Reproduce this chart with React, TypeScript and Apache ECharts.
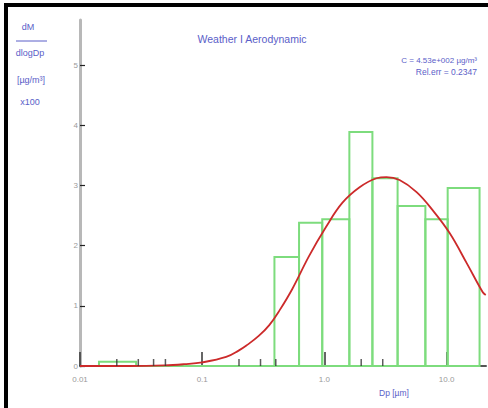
import React, { useEffect, useRef } from "react";
import * as echarts from "echarts";

// Histogram bins (Dp in µm, lower/upper edges) and heights (dM/dlogDp, x100 µg/m³)
const binLo = [0.0143, 0.0288, 0.39, 0.62, 0.96, 1.6, 2.47, 3.97, 6.7, 10.2];
const binHi = [0.0288, 0.39, 0.62, 0.96, 1.6, 2.47, 3.97, 6.7, 10.2, 18.6];
const binHeight = [0.07, 0, 1.81, 2.38, 2.44, 3.89, 3.12, 2.66, 2.44, 2.96];

// Fitted log-normal curve
const fitDp = [0.01, 0.025, 0.049, 0.071, 0.1, 0.157, 0.2, 0.23, 0.29, 0.354, 0.428, 0.546, 0.75, 1.03, 1.4, 1.94, 2.67, 3.22, 4.12, 5.68, 7.68, 10.58, 14.6, 19.7, 20.9];
const fitValue = [0, 0, 0.01, 0.03, 0.06, 0.15, 0.26, 0.34, 0.5, 0.68, 0.92, 1.28, 1.83, 2.31, 2.71, 2.97, 3.12, 3.14, 3.09, 2.89, 2.59, 2.21, 1.71, 1.23, 1.18];

// Extra small tick marks on the Dp axis
const minorTicks = [0.02, 0.03, 0.04, 0.05, 0.2, 0.3, 0.4, 2, 3];

const yTickValues = [0, 1, 2, 3, 4, 5];

const titleText = "Weather I Aerodynamic";
const infoLine1 = "C = 4.53e+002 µg/m³";
const infoLine2 = "Rel.err = 0.2347";
const yUnitLines = ["dM", "dlogDp", "[µg/m³]", "x100"];
const xName = "Dp [µm]";

const FONT = "Liberation Sans, Arial, sans-serif";
const BLUE = "#5a5ec8";
const GRAY = "#9a9a9a";

export default function App() {
  const ref = useRef<HTMLDivElement>(null);
  useEffect(() => {
    if (!ref.current) return;
    const chart = echarts.init(ref.current, undefined, { renderer: "svg" });
    const txt = (text: string, x: number, y: number, size: number, align: string) => ({
      type: "text",
      x,
      y,
      silent: true,
      style: {
        text,
        fill: BLUE,
        font: `${size}px ${FONT}`,
        align,
        verticalAlign: "middle",
        textAlign: align,
        textVerticalAlign: "middle",
      },
    });
    chart.setOption({
      animation: false,
      backgroundColor: "#ffffff",
      grid: { left: 80, right: 2, top: 20, bottom: 42 },
      xAxis: {
        type: "log",
        logBase: 10,
        min: 0.01,
        max: 21,
        axisLine: { show: true, lineStyle: { color: "#555", width: 2 } },
        axisTick: { show: true, inside: true, length: 14, lineStyle: { color: "#333", width: 1.5 } },
        axisLabel: {
          color: GRAY,
          fontSize: 8,
          fontFamily: FONT,
          margin: 9,
          showMaxLabel: false,
          formatter: (v: number) => (v >= 1 ? v.toFixed(1) : String(Number(v.toPrecision(2)))),
        },
        splitLine: { show: false },
        minorTick: { show: false },
      },
      yAxis: {
        type: "value",
        min: 0,
        max: 5.75,
        interval: 1,
        axisLine: { show: true, lineStyle: { color: "#b8b8b8", width: 3 } },
        axisTick: {
          show: true,
          inside: true,
          length: 5,
          customValues: yTickValues,
          lineStyle: { color: "#222", width: 1.2 },
        },
        axisLabel: {
          color: GRAY,
          fontSize: 8,
          fontFamily: FONT,
          margin: 2,
          customValues: yTickValues,
          formatter: (v: number) => (Number.isInteger(v) ? String(v) : ""),
        },
        splitLine: { show: false },
      },
      series: [
        {
          type: "custom",
          silent: true,
          clip: false,
          encode: { x: [0, 1], y: 2 },
          data: binLo.map((lo, i) => [lo, binHi[i], binHeight[i]]),
          renderItem: (_params: any, api: any) => {
            const p0 = api.coord([api.value(0), api.value(2)]);
            const p1 = api.coord([api.value(1), 0]);
            return {
              type: "rect",
              shape: { x: p0[0], y: p0[1], width: p1[0] - p0[0], height: p1[1] - p0[1] },
              style: { fill: "none", stroke: "#7ddc7d", lineWidth: 2 },
            };
          },
          z: 2,
        },
        {
          type: "line",
          silent: true,
          smooth: 0.4,
          symbol: "none",
          data: fitDp.map((d, i) => [d, fitValue[i]]),
          lineStyle: { color: "#cc2a2a", width: 1.8 },
          z: 3,
        },
        {
          type: "scatter",
          silent: true,
          clip: false,
          symbol: "rect",
          symbolSize: [1.5, 7],
          symbolOffset: [0, -3.5],
          itemStyle: { color: "#333" },
          data: minorTicks.map((v) => [v, 0]),
          z: 4,
        },
      ],
      graphic: [
        { type: "rect", silent: true, shape: { x: 4, y: 3, width: 4, height: 405 }, style: { fill: "#000" } },
        { type: "rect", silent: true, shape: { x: 4, y: 3, width: 484, height: 4 }, style: { fill: "#000" } },
        txt(yUnitLines[0], 28, 27, 9, "center"),
        { type: "line", silent: true, shape: { x1: 16, y1: 41, x2: 47, y2: 41 }, style: { stroke: BLUE, lineWidth: 1 } },
        txt(yUnitLines[1], 30, 53, 9, "center"),
        txt(yUnitLines[2], 31, 80, 9, "center"),
        txt(yUnitLines[3], 30, 102, 9, "center"),
        txt(titleText, 252, 39, 10.5, "center"),
        txt(infoLine1, 477, 60, 8, "right"),
        txt(infoLine2, 477, 71.5, 8.5, "right"),
        txt(xName, 394, 393, 8.5, "center"),
      ],
    });
    return () => chart.dispose();
  }, []);
  return <div ref={ref} style={{ position: "absolute", left: 0, top: 0, width: 488, height: 408 }} />;
}
